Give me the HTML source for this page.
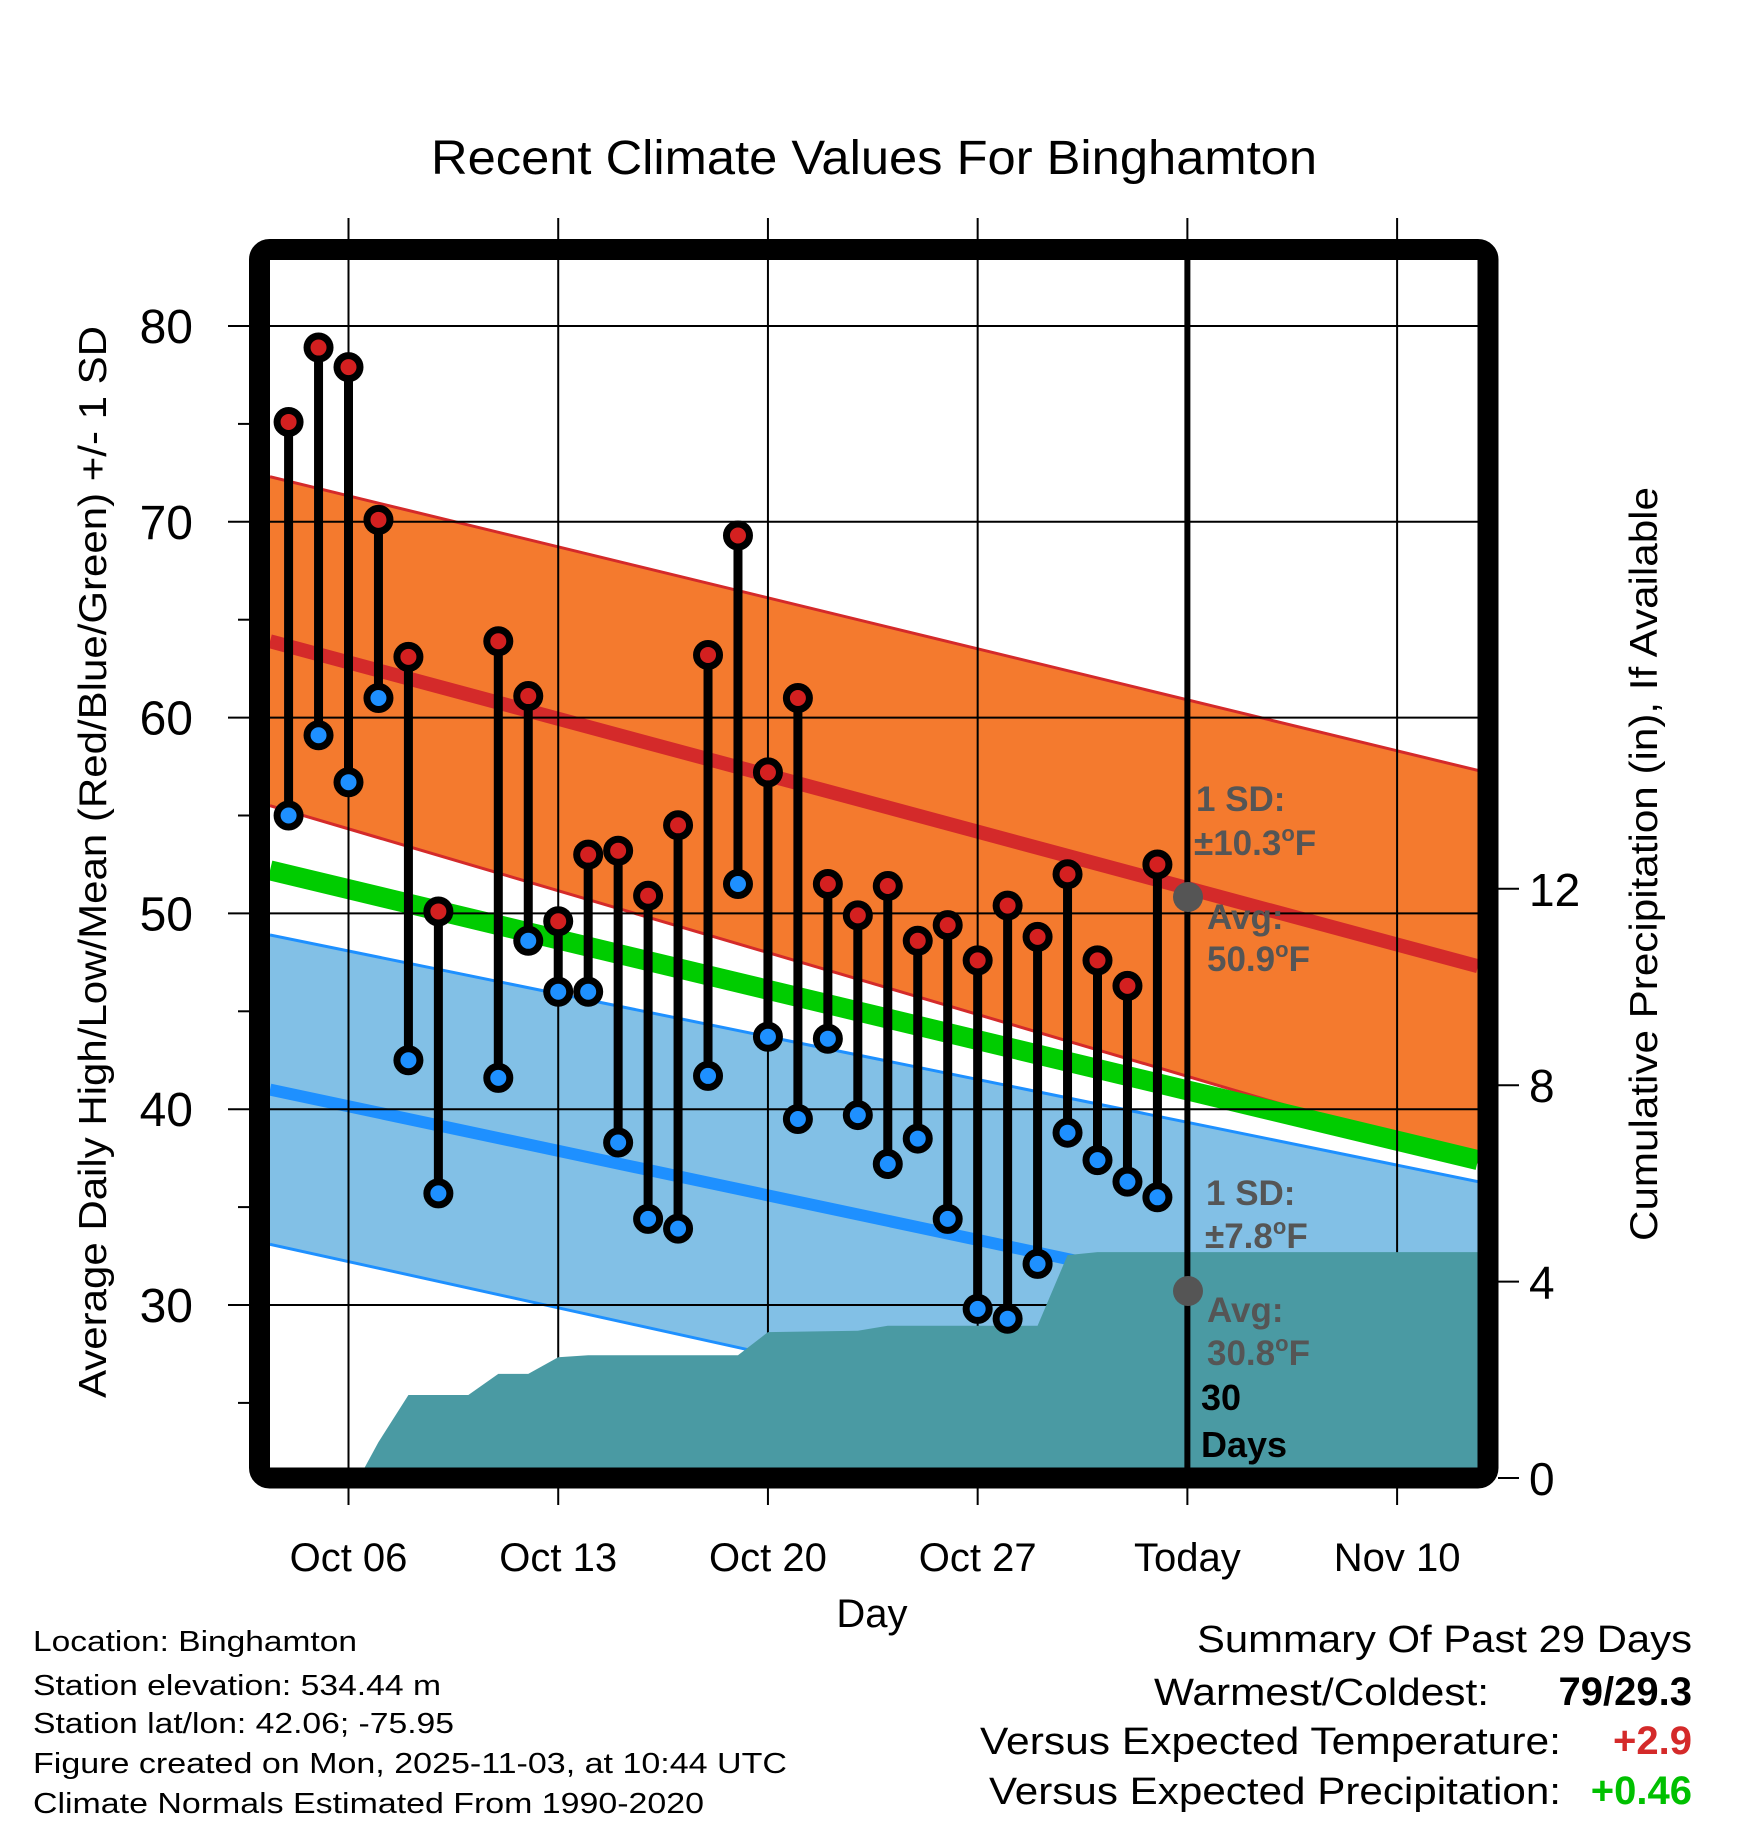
<!DOCTYPE html>
<html><head><meta charset="utf-8"><style>
html,body{margin:0;padding:0;background:#fff;}
svg{display:block;font-family:"Liberation Sans",Arial,sans-serif;}
</style></head><body>
<svg id="chart" width="1748" height="1828" viewBox="0 0 1748 1828" xmlns="http://www.w3.org/2000/svg">
<defs><clipPath id="plotclip"><rect x="270" y="260" width="1208" height="1208"/></clipPath></defs>
<rect x="0" y="0" width="1748" height="1828" fill="#fff"/>
<text x="874" y="174" font-size="48" text-anchor="middle" textLength="886" lengthAdjust="spacingAndGlyphs">Recent Climate Values For Binghamton</text>
<g id="bands" clip-path="url(#plotclip)"></g>
<g id="grid"></g>
<g id="precip" clip-path="url(#plotclip)"></g>
<g id="marks"></g>
<g id="axes"></g>
<g id="notes">
<circle cx="1188" cy="897" r="15" fill="#555"/>
<circle cx="1188" cy="1291" r="15" fill="#555"/>
<g font-weight="bold" fill="#555" font-size="35">
<text x="1196" y="811">1 SD:</text>
<text x="1194" y="855">±10.3<tspan font-size="22" dy="-14">o</tspan><tspan dy="14">F</tspan></text>
<text x="1207" y="929">Avg:</text>
<text x="1207" y="971">50.9<tspan font-size="22" dy="-14">o</tspan><tspan dy="14">F</tspan></text>
<text x="1206" y="1205">1 SD:</text>
<text x="1205" y="1248">±7.8<tspan font-size="22" dy="-14">o</tspan><tspan dy="14">F</tspan></text>
<text x="1207" y="1322">Avg:</text>
<text x="1207" y="1365">30.8<tspan font-size="22" dy="-14">o</tspan><tspan dy="14">F</tspan></text>
</g>
<text x="1201" y="1410" font-size="36" font-weight="bold">30</text>
<text x="1201" y="1457" font-size="36" font-weight="bold">Days</text>
</g>
<rect x="259.5" y="249.5" width="1228.5" height="1228.5" rx="10" fill="none" stroke="#000" stroke-width="21"/>
<text x="872" y="1627" font-size="40" text-anchor="middle">Day</text>
<text transform="translate(106,862) rotate(-90)" font-size="39" text-anchor="middle" textLength="1072" lengthAdjust="spacingAndGlyphs">Average Daily High/Low/Mean (Red/Blue/Green) +/- 1 SD</text>
<text transform="translate(1657,864) rotate(-90)" font-size="39" text-anchor="middle" textLength="754" lengthAdjust="spacingAndGlyphs">Cumulative Precipitation (in), If Available</text>
<g font-size="29">
<text x="33" y="1651" textLength="324" lengthAdjust="spacingAndGlyphs">Location: Binghamton</text>
<text x="33" y="1695" textLength="408" lengthAdjust="spacingAndGlyphs">Station elevation: 534.44 m</text>
<text x="33" y="1733" textLength="421" lengthAdjust="spacingAndGlyphs">Station lat/lon: 42.06; -75.95</text>
<text x="33" y="1773" textLength="754" lengthAdjust="spacingAndGlyphs">Figure created on Mon, 2025-11-03, at 10:44 UTC</text>
<text x="33" y="1813" textLength="671" lengthAdjust="spacingAndGlyphs">Climate Normals Estimated From 1990-2020</text>
</g>
<g font-size="38">
<text x="1692" y="1652" text-anchor="end" textLength="495" lengthAdjust="spacingAndGlyphs">Summary Of Past 29 Days</text>
<text x="1489" y="1705" text-anchor="end" textLength="335" lengthAdjust="spacingAndGlyphs">Warmest/Coldest:</text>
<text x="1692" y="1705" text-anchor="end" font-weight="bold" font-size="40">79/29.3</text>
<text x="1561" y="1754" text-anchor="end" textLength="581" lengthAdjust="spacingAndGlyphs">Versus Expected Temperature:</text>
<text x="1692" y="1754" text-anchor="end" font-weight="bold" font-size="40" fill="#d42a2a">+2.9</text>
<text x="1561" y="1804" text-anchor="end" textLength="572" lengthAdjust="spacingAndGlyphs">Versus Expected Precipitation:</text>
<text x="1692" y="1804" text-anchor="end" font-weight="bold" font-size="40" fill="#00c000">+0.46</text>
</g>
</svg>
<script>
// day offsets relative to Oct 06
const obsDays = [-2,-1,0,1,2,3,5,6,7,8,9,10,11,12,13,14,15,16,17,18,19,20,21,22,23,24,25,26,27];
const highs = [75.1,78.9,77.9,70.1,63.1,50.1,63.9,61.1,49.6,53.0,53.2,50.9,54.5,63.2,69.3,57.2,61.0,51.5,49.9,51.4,48.6,49.4,47.6,50.4,48.8,52.0,47.6,46.3,52.5];
const lows = [55.0,59.1,56.7,61.0,42.5,35.7,41.6,48.6,46.0,46.0,38.3,34.4,33.9,41.7,51.5,43.7,39.5,43.6,39.7,37.2,38.5,34.4,29.8,29.3,32.1,38.8,37.4,36.3,35.5];
// normals at left edge (d=-2.62) and right edge (d=37.7)
const normEdgeDays = [-2.62, 37.7];
const normHigh = [63.9, 47.3];
const sdHigh = [8.4, 10.0];
const normLow = [41.0, 27.9];
const sdLow = [7.9, 8.4];
const normMean = [52.2, 37.4];
const precipDays = [0.35,1,2,4,5,6,7,8,13,14,17,18,23,24,25,37.7];
const precipVals = [0,0.73,1.69,1.69,2.12,2.12,2.46,2.5,2.5,2.97,3.0,3.1,3.1,4.54,4.6,4.6];
const xTickDays = [0,7,14,21,28,35];
const xTickLabels = ["Oct 06","Oct 13","Oct 20","Oct 27","Today","Nov 10"];
const yTicks = [30,40,50,60,70,80];
const y2Ticks = [0,4,8,12];
const todayDay = 28;

const NS="http://www.w3.org/2000/svg";
const X = d => 348.5 + 29.96*d;
const Y = v => 326 + (80 - v)*19.58;
const YP = p => 1478 - p*49.1;
function mk(tag, attrs, parent){const e=document.createElementNS(NS,tag);for(const k in attrs)e.setAttribute(k,attrs[k]);parent.appendChild(e);return e;}
const bands=document.getElementById('bands'), grid=document.getElementById('grid'), precip=document.getElementById('precip'), marks=document.getElementById('marks'), axes=document.getElementById('axes');
const x0=X(normEdgeDays[0]), x1=X(normEdgeDays[1]);
function band(mean, sd, fill, edge, name){
  const p=mk('polygon',{points:`${x0},${Y(mean[0]+sd[0])} ${x1},${Y(mean[1]+sd[1])} ${x1},${Y(mean[1]-sd[1])} ${x0},${Y(mean[0]-sd[0])}`,fill:fill},bands);
  
  
  [1,-1].forEach(s=>{const l=mk('line',{x1:x0,y1:Y(mean[0]+s*sd[0]),x2:x1,y2:Y(mean[1]+s*sd[1]),stroke:edge,'stroke-width':3},bands);
    
    });
}
band(normLow, sdLow, '#82c0e6', '#1e90ff', 'low-sd-band');
band(normHigh, sdHigh, '#f47a2e', '#d42a2a', 'high-sd-band');
function meanLine(m, color, w, name){
  const l=mk('line',{x1:x0,y1:Y(m[0]),x2:x1,y2:Y(m[1]),stroke:color,'stroke-width':w},bands);
  
  
}
meanLine(normLow,'#1e90ff',12,'normal-low-line');
meanLine(normHigh,'#d42a2a',14,'normal-high-line');
meanLine(normMean,'#00cc00',20,'normal-mean-line');
yTicks.forEach(v=>{const l=mk('line',{x1:228,y1:Y(v),x2:1478,y2:Y(v),stroke:'#000','stroke-width':2},grid);
  
  
  const t=mk('text',{x:193,y:Y(v)+17,'font-size':48,'text-anchor':'end'},axes);t.textContent=v;
  
  
  const m=mk('line',{x1:238,y1:Y(v-5),x2:250,y2:Y(v-5),stroke:'#000','stroke-width':2},grid);
  
  
});
xTickDays.forEach((d,i)=>{const l=mk('line',{x1:X(d),y1:218,x2:X(d),y2:1505,stroke:'#000','stroke-width':2},grid);
  
  
  const t=mk('text',{x:X(d),y:1571,'font-size':40,'text-anchor':'middle'},axes);t.textContent=xTickLabels[i];
  
  
});
y2Ticks.forEach(p=>{const l=mk('line',{x1:1498,y1:YP(p),x2:1519,y2:YP(p),stroke:'#000','stroke-width':2},axes);
  
  
  const t=mk('text',{x:1529,y:YP(p)+17,'font-size':46},axes);t.textContent=p;
  
  
});
let pts=precipDays.map((d,i)=>`${X(d)},${YP(precipVals[i])}`).join(' ');
pts+=` ${X(precipDays[precipDays.length-1])},${YP(0)} ${X(precipDays[0])},${YP(0)}`;
const pa=mk('polygon',{points:pts,fill:'#4a9aa3'},precip);


const tl=mk('line',{x1:X(todayDay),y1:260,x2:X(todayDay),y2:1468,stroke:'#000','stroke-width':6},marks);


obsDays.forEach((d,i)=>{const s=mk('line',{x1:X(d),y1:Y(highs[i]),x2:X(d),y2:Y(lows[i]),stroke:'#000','stroke-width':9},marks);
  
  });
obsDays.forEach((d,i)=>{
  const h=mk('circle',{cx:X(d),cy:Y(highs[i]),r:11.5,fill:'#d42020',stroke:'#000','stroke-width':7},marks);
  
  
  const l=mk('circle',{cx:X(d),cy:Y(lows[i]),r:11.5,fill:'#1e90ff',stroke:'#000','stroke-width':7},marks);
  
  
});
</script>
</body></html>
